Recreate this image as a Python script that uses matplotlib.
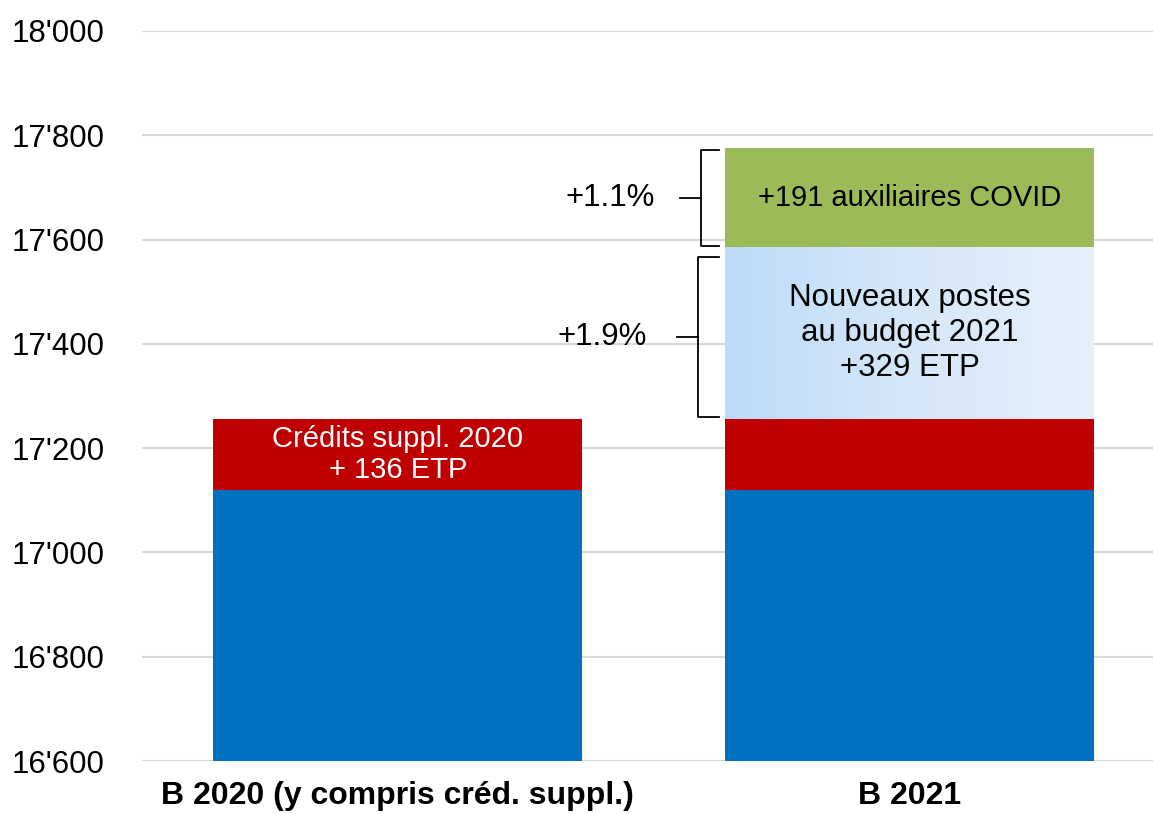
import numpy as np
import matplotlib.pyplot as plt
from matplotlib.colors import LinearSegmentedColormap
from matplotlib.ticker import FuncFormatter

plt.rcParams['font.family'] = ['Liberation Sans', 'DejaVu Sans']

categories = ['B 2020 (y compris créd. suppl.)', 'B 2021']
base = [17120, 17120]
credits_suppl = [136, 136]
nouveaux_postes = [0, 329]
auxiliaires = [0, 191]
pct_labels = ['+1.9%', '+1.1%']

fig = plt.figure(figsize=(11.53, 8.14), dpi=100)
ax = fig.add_axes([0.123, 0.065, 0.877, 0.897])

x = np.arange(len(categories))
w = 0.72
ax.bar(x, base, width=w, color='#0070C0', zorder=2)
b1 = np.array(base) + np.array(credits_suppl)
ax.bar(x, credits_suppl, bottom=base, width=w, color='#C00000', zorder=2)

# light-blue gradient segment
bot2 = b1[1]
top2 = bot2 + nouveaux_postes[1]
cmap = LinearSegmentedColormap.from_list('lb', ['#BCDBF8', '#D6E7F9', '#E5F0FB'])
grad = np.linspace(0, 1, 256).reshape(1, -1)
ax.imshow(grad, cmap=cmap, aspect='auto', extent=(x[1] - w / 2, x[1] + w / 2, bot2, top2), zorder=2)

bot3 = top2
top3 = bot3 + auxiliaires[1]
ax.bar(x[1], auxiliaires[1], bottom=bot3, width=w, color='#9BBB59', zorder=2)

ax.set_xlim(-0.5, 1.475)
ax.set_ylim(16600, 18000)
ax.set_yticks(np.arange(16600, 18001, 200))
ax.yaxis.set_major_formatter(FuncFormatter(lambda v, p: f"{int(v):,}".replace(',', "'")))
ax.grid(axis='y', color='#D9D9D9', linewidth=1.5, zorder=0)
ax.set_axisbelow(True)
for s in ax.spines.values():
    s.set_visible(False)
ax.tick_params(axis='y', length=0, labelsize=22.5, pad=27)
ax.tick_params(axis='x', length=0, pad=14)
ax.set_xticks(x)
ax.set_xticklabels(categories, fontsize=23, fontweight='bold')

# segment labels
ax.text(x[0], base[0] + credits_suppl[0] / 2, 'Crédits suppl. 2020\n+ 136 ETP', color='white',
        ha='center', va='center', fontsize=21, linespacing=1.13, zorder=3)
ax.text(x[1], (bot2 + top2) / 2, 'Nouveaux postes\nau budget 2021\n+329 ETP', color='black',
        ha='center', va='center', fontsize=22.5, linespacing=1.22, zorder=3)
ax.text(x[1], (bot3 + top3) / 2, '+191 auxiliaires COVID', color='black',
        ha='center', va='center', fontsize=21, zorder=3)

# brackets
def bracket(xv, y0, y1, label, xl):
    xe = x[1] - w / 2 - 0.012
    ax.plot([xe, xv, xv, xe], [y0, y0, y1, y1], color='black', lw=1.3, zorder=3)
    ym = (y0 + y1) / 2
    ax.plot([xv - 0.042, xv], [ym, ym], color='black', lw=1.3, zorder=3)
    ax.text(xl, ym, label, ha='center', va='center', fontsize=22.5)

bracket(0.587, bot2 + 3, top2 - 18, pct_labels[0], 0.399)
bracket(0.593, bot3 + 3, top3 - 5, pct_labels[1], 0.414)

fig.savefig('out.png', dpi=100)
